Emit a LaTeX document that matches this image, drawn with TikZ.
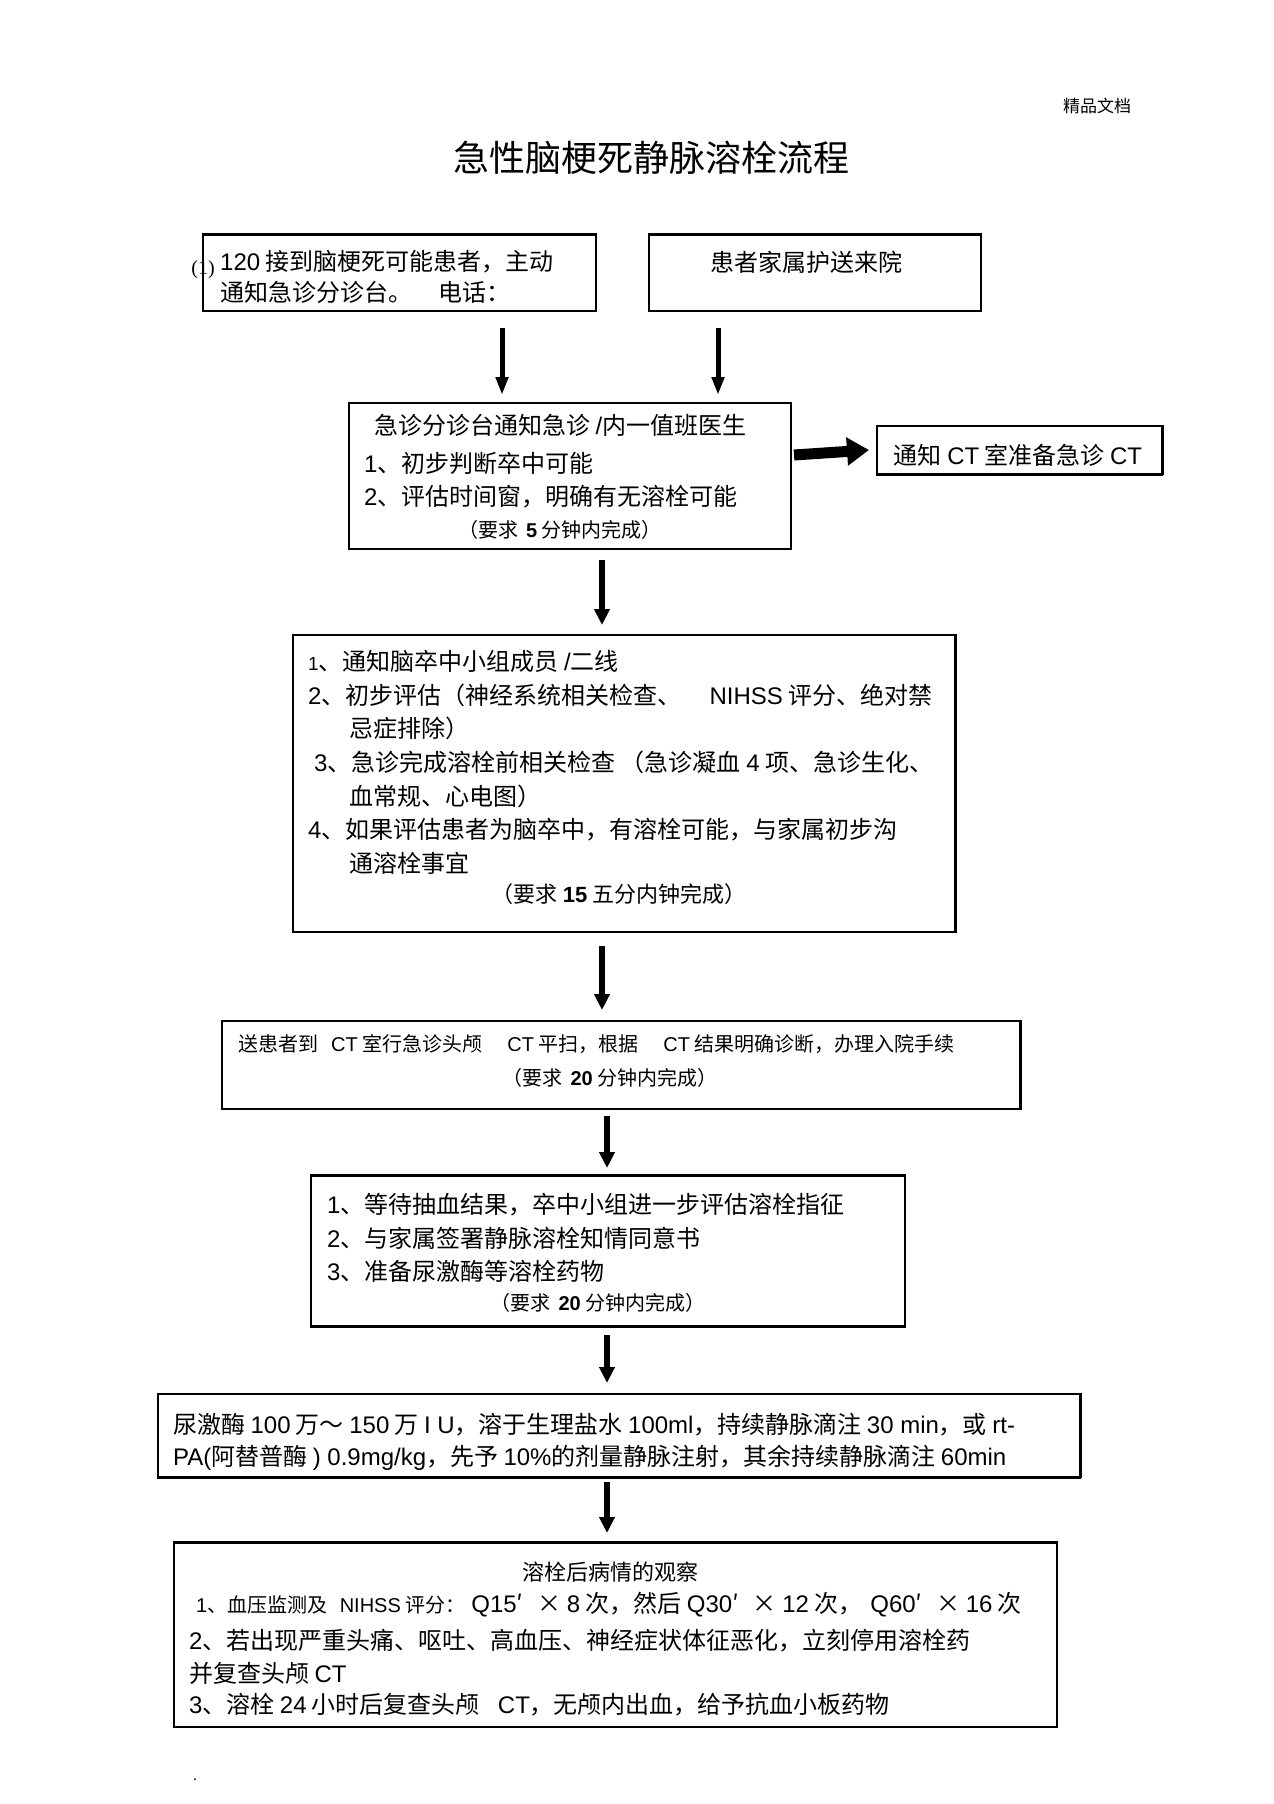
\documentclass[tikz,border=0pt]{standalone}
\usepackage{fontspec}
\setmainfont{Noto Sans CJK SC}
\newfontfamily\arial{Liberation Sans}
\newfontfamily\tms{Liberation Serif}
\usetikzlibrary{arrows.meta}
\newcommand{\B}[1]{{\arial\bfseries #1}}
\newcommand{\A}[1]{{\arial #1}}
\tikzset{
  box/.style={draw, line width=1.5pt, inner sep=0pt},
  txt/.style={inner sep=0pt, anchor=west, font=\fontsize{24}{28}\selectfont},
  ctxt/.style={inner sep=0pt, anchor=center, font=\fontsize{24}{28}\selectfont},
  small/.style={inner sep=0pt, anchor=center, font=\fontsize{20}{24}\selectfont},
  darrow/.style={line width=6pt, -{Triangle[width=15pt,length=16pt]}},
  tarrow/.style={line width=5pt, -{Triangle[width=12pt,length=18pt]}},
  rarrow/.style={line width=11pt, -{Triangle[width=27pt,length=22pt]}}
}
\begin{document}
\begin{tikzpicture}[x=1pt,y=-1pt]
\useasboundingbox (0,0) rectangle (1274,1804);
\fill[white] (0,0) rectangle (1274,1804);

% header and title
\node[inner sep=0pt, font=\fontsize{17}{19}\selectfont] (hdr) at (1097,106) {精品文档};
\node[inner sep=0pt, font=\fontsize{36}{41}\selectfont] (title) at (651,158) {急性脑梗死静脉溶栓流程};

% box 1
\node[box, minimum width=393pt, minimum height=76pt] (b1) at (399.5,273) {};
\draw[line width=3pt] (b1.north west) -- (b1.north east);
\node[inner sep=0pt, font=\tms\fontsize{20}{22}\selectfont] (n1) at (203,270) {(1)};
\node[txt] (b1l1) at (220,262) {\A{120} 接到脑梗死可能患者，主动};
\node[txt] (b1l2) at (220,292) {通知急诊分诊台。\hspace{26pt}电话：};

% box 2
\node[box, minimum width=332pt, minimum height=76pt] (b2) at (815,273) {};
\draw[line width=3pt] (b2.north west) -- (b2.north east);
\node[ctxt] (b2l1) at (806,262) {患者家属护送来院};

% arrows to box 3
\coordinate (a1s) at (502,328); \coordinate (a1e) at (502,395);
\coordinate (a2s) at (718,328); \coordinate (a2e) at (718,395);
\draw[tarrow] (a1s) -- (a1e);
\draw[tarrow] (a2s) -- (a2e);

% box 3
\node[box, minimum width=442pt, minimum height=146pt] (b3) at (570,476) {};
\node[txt] (b3l1) at (374,425) {急诊分诊台通知急诊 \A{/}内一值班医生};
\node[txt] (b3l2) at (364,463) {\A{1}、初步判断卒中可能};
\node[txt] (b3l3) at (364,497) {\A{2}、评估时间窗，明确有无溶栓可能};
\node[small] (b3l4) at (560,530) {（要求 \,\B{5} 分钟内完成）};

% right arrow and box 4
\node[box, minimum width=285pt, minimum height=48pt] (b4) at (1019.5,450) {};
\draw[line width=3pt] (b4.south west) -- (b4.south east);
\draw[line width=2.5pt] (b4.north east) -- (b4.south east);
\node[ctxt] (b4l1) at (1018,455) {通知 \A{CT} 室准备急诊 \A{CT}};
\coordinate (ra) at (794,455);
\draw[rarrow] (ra) -- (b4.west -| 869,0);

% arrow to box 5
\coordinate (a3s) at (602,560); \coordinate (a3e) at (602,625);
\draw[darrow] (a3s) -- (a3e);

% box 5
\node[box, minimum width=662pt, minimum height=297pt] (b5) at (624,783.5) {};
\draw[line width=2.5pt] (b5.north east) -- (b5.south east);
\node[txt] (b5l1) at (308,661) {{\arial\fontsize{19}{22}\selectfont 1}、通知脑卒中小组成员 \A{/}二线};
\node[txt] (b5l2) at (308,695) {\A{2}、初步评估（神经系统相关检查、\hspace{28pt}\A{NIHSS} 评分、绝对禁};
\node[txt] (b5l3) at (349,728) {忌症排除）};
\node[txt] (b5l4) at (314,762) {\A{3}、急诊完成溶栓前相关检查 （急诊凝血 \A{4} 项、急诊生化、};
\node[txt] (b5l5) at (349,796) {血常规、心电图）};
\node[txt] (b5l6) at (308,830) {\A{4}、如果评估患者为脑卒中，有溶栓可能，与家属初步沟};
\node[txt] (b5l7) at (349,863) {通溶栓事宜};
\node[ctxt, font=\fontsize{22}{26}\selectfont] (b5l8) at (619,894) {（要求 \B{15} 五分内钟完成）};

% arrow to box 6
\coordinate (a4s) at (602,946); \coordinate (a4e) at (602,1010);
\draw[darrow] (a4s) -- (a4e);

% box 6
\node[box, minimum width=798pt, minimum height=88pt] (b6) at (621,1065) {};
\draw[line width=2.5pt] (b6.north east) -- (b6.south east);
\node[txt, font=\fontsize{20}{23}\selectfont] (b6l1) at (238,1044) {送患者到\hspace{13pt}\A{CT} 室行急诊头颅\hspace{25pt}\A{CT} 平扫，根据\hspace{25pt}\A{CT} 结果明确诊断，办理入院手续};
\node[small] (b6l2) at (610,1078) {（要求 \,\B{20} 分钟内完成）};

% arrow to box 7
\coordinate (a5s) at (607,1116); \coordinate (a5e) at (607,1168);
\draw[darrow] (a5s) -- (a5e);

% box 7
\node[box, minimum width=594pt, minimum height=150pt] (b7) at (608,1251) {};
\draw[line width=3pt] (b7.north west) -- (b7.north east);
\draw[line width=3pt] (b7.south west) -- (b7.south east);
\node[txt] (b7l1) at (327,1205) {\A{1}、等待抽血结果，卒中小组进一步评估溶栓指征};
\node[txt] (b7l2) at (327,1238) {\A{2}、与家属签署静脉溶栓知情同意书};
\node[txt] (b7l3) at (327,1271) {\A{3}、准备尿激酶等溶栓药物};
\node[small] (b7l4) at (598,1303) {（要求 \,\B{20} 分钟内完成）};

% arrow to box 8
\coordinate (a6s) at (607,1335); \coordinate (a6e) at (607,1383);
\draw[darrow] (a6s) -- (a6e);

% box 8
\node[box, minimum width=922pt, minimum height=83pt] (b8) at (619,1435.5) {};
\draw[line width=3pt] (b8.south west) -- (b8.south east);
\draw[line width=2.5pt] (b8.north east) -- (b8.south east);
\node[txt] (b8l1) at (173,1425) {尿激酶 \A{100} 万～ \A{150} 万 \A{I U}，溶于生理盐水 \A{100ml}，持续静脉滴注 \A{30 min}，或 \A{rt-}};
\node[txt] (b8l2) at (173,1458) {\A{PA(}阿替普酶 \A{) 0.9mg/kg}，先予 \A{10\%}的剂量静脉注射，其余持续静脉滴注 \A{60min}};

% arrow to box 9
\coordinate (a7s) at (607,1482); \coordinate (a7e) at (607,1533);
\draw[darrow] (a7s) -- (a7e);

% box 9
\node[box, minimum width=883pt, minimum height=184pt] (b9) at (615.5,1635) {};
\draw[line width=3pt] (b9.north west) -- (b9.north east);
\node[ctxt, font=\fontsize{22}{26}\selectfont] (b9l0) at (610,1572) {溶栓后病情的观察};
\node[txt] (b9l1) at (196,1605) {{\fontsize{20}{23}\selectfont \A{1}、血压监测及 \hspace{8pt}\A{NIHSS} 评分：\hspace{6pt}}\A{Q15}′\hspace{14pt}× \A{8} 次，然后 \A{Q30}′\hspace{14pt}× \A{12} 次，\hspace{8pt}\A{Q60}′\hspace{14pt}× \A{16} 次};
\node[txt] (b9l2) at (189,1641) {\A{2}、若出现严重头痛、呕吐、高血压、神经症状体征恶化，立刻停用溶栓药};
\node[txt] (b9l3) at (189,1673) {并复查头颅 \A{CT}};
\node[txt] (b9l4) at (189,1705) {\A{3}、溶栓 \A{24} 小时后复查头颅\hspace{18pt}\A{CT}，无颅内出血，给予抗血小板药物};

\node[inner sep=0pt, font=\fontsize{14}{16}\selectfont] (dot) at (195,1780) {.};
\end{tikzpicture}
\end{document}
